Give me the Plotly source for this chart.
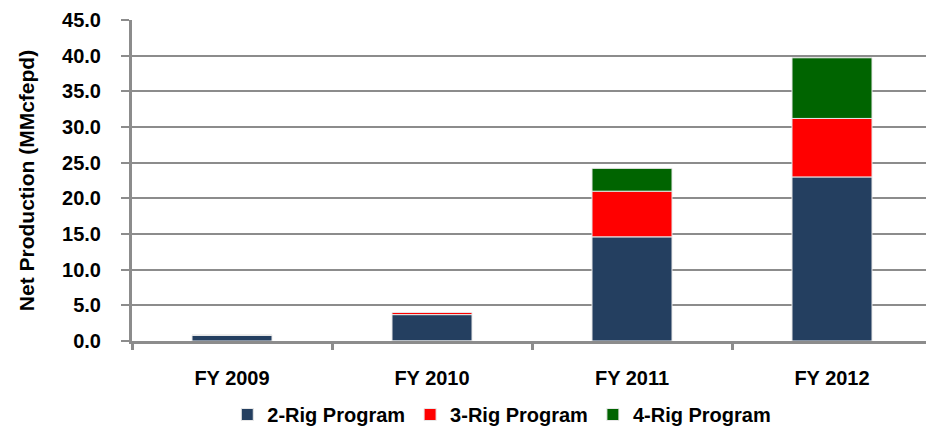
import plotly.graph_objects as go

categories = ["FY 2009", "FY 2010", "FY 2011", "FY 2012"]
rig2 = [0.8, 3.7, 14.6, 23.0]
rig3 = [0.0, 0.3, 6.4, 8.2]
rig4 = [0.0, -0.2, 3.2, 8.5]
series_names = ["2-Rig Program", "3-Rig Program", "4-Rig Program"]
colors = ["#243F60", "#FF0000", "#006400"]
y_ticks = [0, 5, 10, 15, 20, 25, 30, 35, 40, 45]

FONT = "Liberation Sans, Arial, sans-serif"

fig = go.Figure()
for name, vals, col in zip(series_names, [rig2, rig3, rig4], colors):
    fig.add_trace(go.Bar(
        x=categories, y=vals, name=name,
        marker=dict(color=col, line=dict(color="#e8e8e8", width=1)),
        width=0.4,
    ))

fig.update_layout(
    barmode="relative",
    width=926, height=434,
    margin=dict(l=132, r=0, t=20, b=87),
    paper_bgcolor="white", plot_bgcolor="white",
    font=dict(family=FONT, color="#000000"),
    showlegend=True,
    legend=dict(orientation="h", x=0.12, xanchor="left", y=-0.23, yanchor="middle",
                font=dict(size=20, family=FONT, weight="bold"),
                itemwidth=30, traceorder="normal"),
)
fig.update_yaxes(
    range=[0, 45], tickvals=y_ticks, ticktext=[f"{v:.1f}" for v in y_ticks],
    automargin=False,
    showgrid=True, gridcolor="#8c8c8c", gridwidth=2,
    showline=True, linecolor="#8c8c8c", linewidth=3,
    ticks="outside", ticklen=8, tickcolor="#8c8c8c", tickwidth=2,
    ticklabelstandoff=16,
    tickfont=dict(size=20, family=FONT, weight="bold"),
    title=dict(text="<b>Net Production (MMcfepd)</b>", font=dict(size=21, family=FONT), standoff=22),
    zeroline=False,
)
fig.update_xaxes(
    automargin=False,
    range=[-0.5, 3.47],
    showline=True, linecolor="#8c8c8c", linewidth=3,
    ticks="outside", tickson="boundaries", ticklen=6, tickcolor="#8c8c8c", tickwidth=3,
    ticklabelstandoff=17,
    tickfont=dict(size=20, family=FONT, weight="bold"),
)

fig.write_html(
    "out.html",
    config={"displayModeBar": False},
    post_script=(
        "var d=document.getElementById('{plot_id}');"
        "d.style.position='fixed';d.style.left='0px';d.style.top='0px';"
        "document.body.style.margin='0';"
        "document.documentElement.style.overflow='hidden';"
    ),
)
